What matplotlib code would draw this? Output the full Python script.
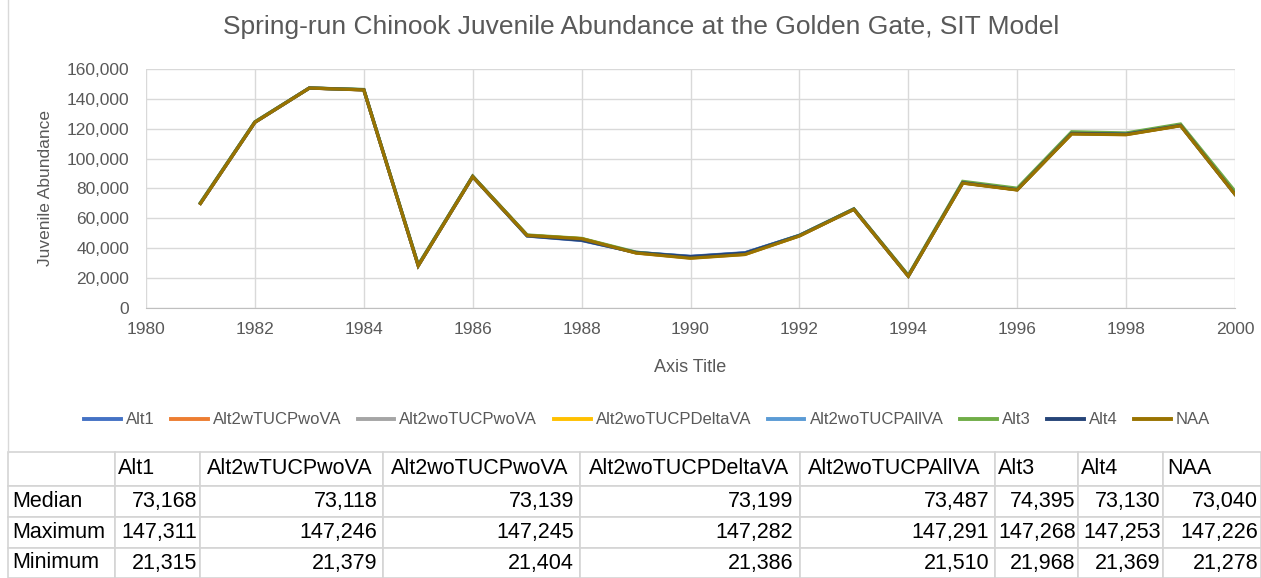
import matplotlib
matplotlib.use("Agg")
import matplotlib.pyplot as plt
from matplotlib.lines import Line2D

plt.rcParams['font.family'] = ['Liberation Sans', 'DejaVu Sans']

# water years
years = list(range(1981, 2001))

# juvenile abundance per alternative
alt1 = [70100, 124400, 147311, 146100, 28400, 88000, 48200, 45200, 37200, 34600,
        37000, 48600, 66200, 21315, 84100, 79300, 117200, 116600, 122400, 76236]
alt2w = [70050, 124350, 147246, 146050, 28350, 87950, 48500, 46300, 36900, 33500,
         35900, 48300, 66100, 21379, 83700, 79100, 116600, 116100, 122100, 76186]
alt2wo = [70080, 124360, 147245, 146060, 28380, 87960, 48550, 46350, 36950, 33600,
          36000, 48350, 66100, 21404, 83750, 79150, 116700, 116200, 122150, 76198]
alt2delta = [70120, 124400, 147282, 146100, 28400, 88000, 48600, 46400, 37000, 33700,
             36100, 48400, 66150, 21386, 83800, 79200, 116800, 116300, 122200, 76278]
alt2all = [70300, 124500, 147291, 146200, 28600, 88100, 48700, 45800, 37300, 34300,
           36800, 48700, 66300, 21510, 84200, 79500, 117300, 116700, 122600, 76674]
alt3 = [70600, 124700, 147268, 146300, 29000, 88300, 48900, 46600, 37400, 33900,
        36300, 48600, 66400, 21968, 84800, 80200, 118000, 117200, 123200, 78190]
alt4 = [70060, 124350, 147253, 146060, 28380, 87960, 48300, 45400, 37100, 34400,
        36800, 48500, 66150, 21369, 83900, 79200, 116900, 116400, 122200, 76200]
naa = [70000, 124300, 147226, 146000, 28300, 87900, 48600, 46400, 36800, 33300,
       35800, 48200, 66000, 21278, 83600, 79000, 116500, 116000, 122000, 76080]

names = ["Alt1", "Alt2wTUCPwoVA", "Alt2woTUCPwoVA", "Alt2woTUCPDeltaVA",
         "Alt2woTUCPAllVA", "Alt3", "Alt4", "NAA"]
series = [alt1, alt2w, alt2wo, alt2delta, alt2all, alt3, alt4, naa]
colors = ["#4472C4", "#ED7D31", "#A5A5A5", "#FFC000",
          "#5B9BD5", "#70AD47", "#264478", "#997300"]

# summary table
row_labels = ["Median", "Maximum", "Minimum"]
median_vals = ["73,168", "73,118", "73,139", "73,199", "73,487", "74,395", "73,130", "73,040"]
max_vals = ["147,311", "147,246", "147,245", "147,282", "147,291", "147,268", "147,253", "147,226"]
min_vals = ["21,315", "21,379", "21,404", "21,386", "21,510", "21,968", "21,369", "21,278"]

W, H = 1261, 578
fig = plt.figure(figsize=(W / 100, H / 100), dpi=100)
gray = "#595959"

ax = fig.add_axes([146 / W, 1 - 308 / H, (1235 - 146) / W, (308 - 69) / H])
for name, vals, c in zip(names, series, colors):
    ax.plot(years, vals, color=c, lw=2.3, label=name, solid_joinstyle='miter')

ax.set_xlim(1980, 2000)
ax.set_ylim(0, 160000)
ax.set_xticks(range(1980, 2001, 2))
ax.set_yticks(range(0, 160001, 20000))
ax.yaxis.set_major_formatter(matplotlib.ticker.FuncFormatter(lambda v, p: f"{int(v):,}"))
ax.grid(True, color="#d9d9d9", lw=1)
ax.set_axisbelow(True)
for s in ["top", "right", "left"]:
    ax.spines[s].set_visible(False)
ax.spines["bottom"].set_color("#bfbfbf")
ax.tick_params(length=0, colors=gray, labelsize=12.5, pad=10)
ax.tick_params(axis="y", pad=12)
ax.set_xlabel("Axis Title", color=gray, fontsize=13, labelpad=16)
ax.set_ylabel("Juvenile Abundance", color=gray, fontsize=12.5, labelpad=10)
fig.text(641 / W, 1 - 27 / H, "Spring-run Chinook Juvenile Abundance at the Golden Gate, SIT Model",
         ha="center", va="center", color=gray, fontsize=19)

handles = [Line2D([], [], color=c, lw=2.8) for c in colors]
fig.legend(handles, names, loc="center", bbox_to_anchor=(647 / W, 1 - 420 / H), ncol=8,
           frameon=False, fontsize=12, handlelength=2.2, handletextpad=0.3, columnspacing=1.0,
           labelcolor=gray)

# chart border
fig.add_artist(Line2D([8 / W, 8 / W], [1 - 452 / H, 1.0], color="#d9d9d9", lw=1))

# table under the chart
tax = fig.add_axes([8 / W, 0, (W - 8) / W, 126 / H])
tax.axis("off")
cell_text = [[""] + names,
             [row_labels[0]] + median_vals,
             [row_labels[1]] + max_vals,
             [row_labels[2]] + min_vals]
col_px = [107, 85, 183, 197, 220, 195, 83, 85, 98]
tbl = tax.table(cellText=cell_text, bbox=[0, 0, 1, 1],
                colWidths=[c / sum(col_px) for c in col_px])
tbl.auto_set_font_size(False)
tbl.set_fontsize(15.5)
heights = [34 / 126, 31 / 126, 31 / 126, 30 / 126]
for (r, c), cell in tbl.get_celld().items():
    cell.set_edgecolor("#d4d4d4")
    cell.set_linewidth(1.2)
    cell.set_height(heights[r])
    cell.get_text().set_color("black")
    if r == 0 or c == 0:
        cell.get_text().set_ha("left")
        cell.PAD = 0.04
    else:
        cell.get_text().set_ha("right")
        cell.PAD = 0.03

fig.savefig("out.png", dpi=100)
